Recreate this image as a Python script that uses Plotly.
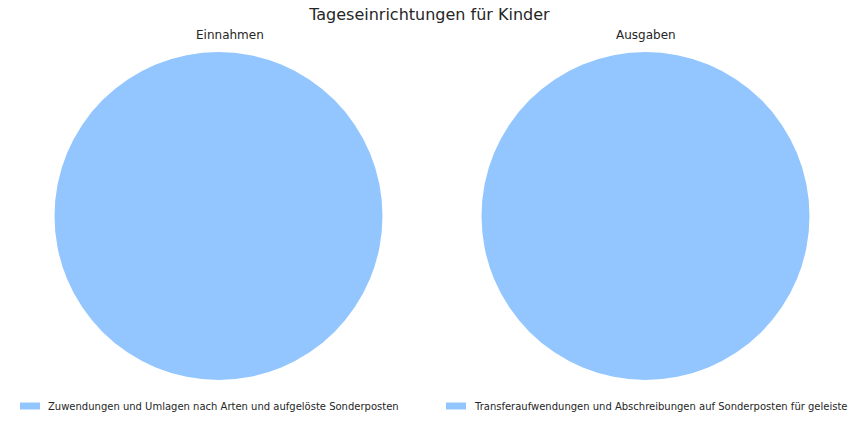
import plotly.graph_objects as go

title = "Tageseinrichtungen für Kinder"
einnahmen_labels = ["Zuwendungen und Umlagen nach Arten und aufgelöste Sonderposten"]
einnahmen_values = [100.0]
# label as visible in the reference (cut at the right edge there)
ausgaben_labels = ["Transferaufwendungen und Abschreibungen auf Sonderposten für geleiste"]
ausgaben_values = [100.0]
pie_color = "#93C6FF"
text_color = "#262626"
font_family = "DejaVu Sans"

W, H = 864, 432

def px_x(p):
    return p / W

def px_y(p):
    return 1 - p / H

fig = go.Figure()
fig.add_trace(go.Pie(
    labels=einnahmen_labels, values=einnahmen_values,
    marker=dict(colors=[pie_color], line=dict(width=0)),
    textinfo="none", hoverinfo="label+value+percent", sort=False,
    domain=dict(x=[px_x(52), px_x(385)], y=[px_y(380), px_y(52)]),
    showlegend=False,
))
fig.add_trace(go.Pie(
    labels=ausgaben_labels, values=ausgaben_values,
    marker=dict(colors=[pie_color], line=dict(width=0)),
    textinfo="none", hoverinfo="label+value+percent", sort=False,
    domain=dict(x=[px_x(479), px_x(812)], y=[px_y(380), px_y(52)]),
    showlegend=False,
))

annotations = [
    dict(text="Einnahmen", x=px_x(229.5), y=px_y(35), xref="paper", yref="paper",
         showarrow=False, xanchor="center", yanchor="middle", font=dict(size=12)),
    dict(text="Ausgaben", x=px_x(645.5), y=px_y(35), xref="paper", yref="paper",
         showarrow=False, xanchor="center", yanchor="middle", font=dict(size=12)),
]
shapes = []
legend_groups = [(einnahmen_labels, 20), (ausgaben_labels, 446)]
for labels, x0 in legend_groups:
    for i, lab in enumerate(labels):
        yc = 406 + i * 18
        shapes.append(dict(type="rect", xref="paper", yref="paper",
                           x0=px_x(x0), x1=px_x(x0 + 20), y0=px_y(yc + 3.5), y1=px_y(yc - 3.5),
                           fillcolor=pie_color, line=dict(width=0)))
        annotations.append(dict(text=lab, x=px_x(x0 + 26), y=px_y(yc), xref="paper", yref="paper",
                                showarrow=False, xanchor="left", yanchor="middle",
                                font=dict(size=10), align="left"))

fig.update_layout(
    width=W, height=H,
    margin=dict(l=0, r=0, t=0, b=0),
    paper_bgcolor="white", plot_bgcolor="white",
    font=dict(family=font_family, color=text_color, size=10),
    title=dict(text=title, x=0.497, xanchor="center", y=px_y(14), yanchor="middle",
               font=dict(size=16, family=font_family, color=text_color)),
    annotations=annotations,
    shapes=shapes,
)

fig.write_html("out.html")
